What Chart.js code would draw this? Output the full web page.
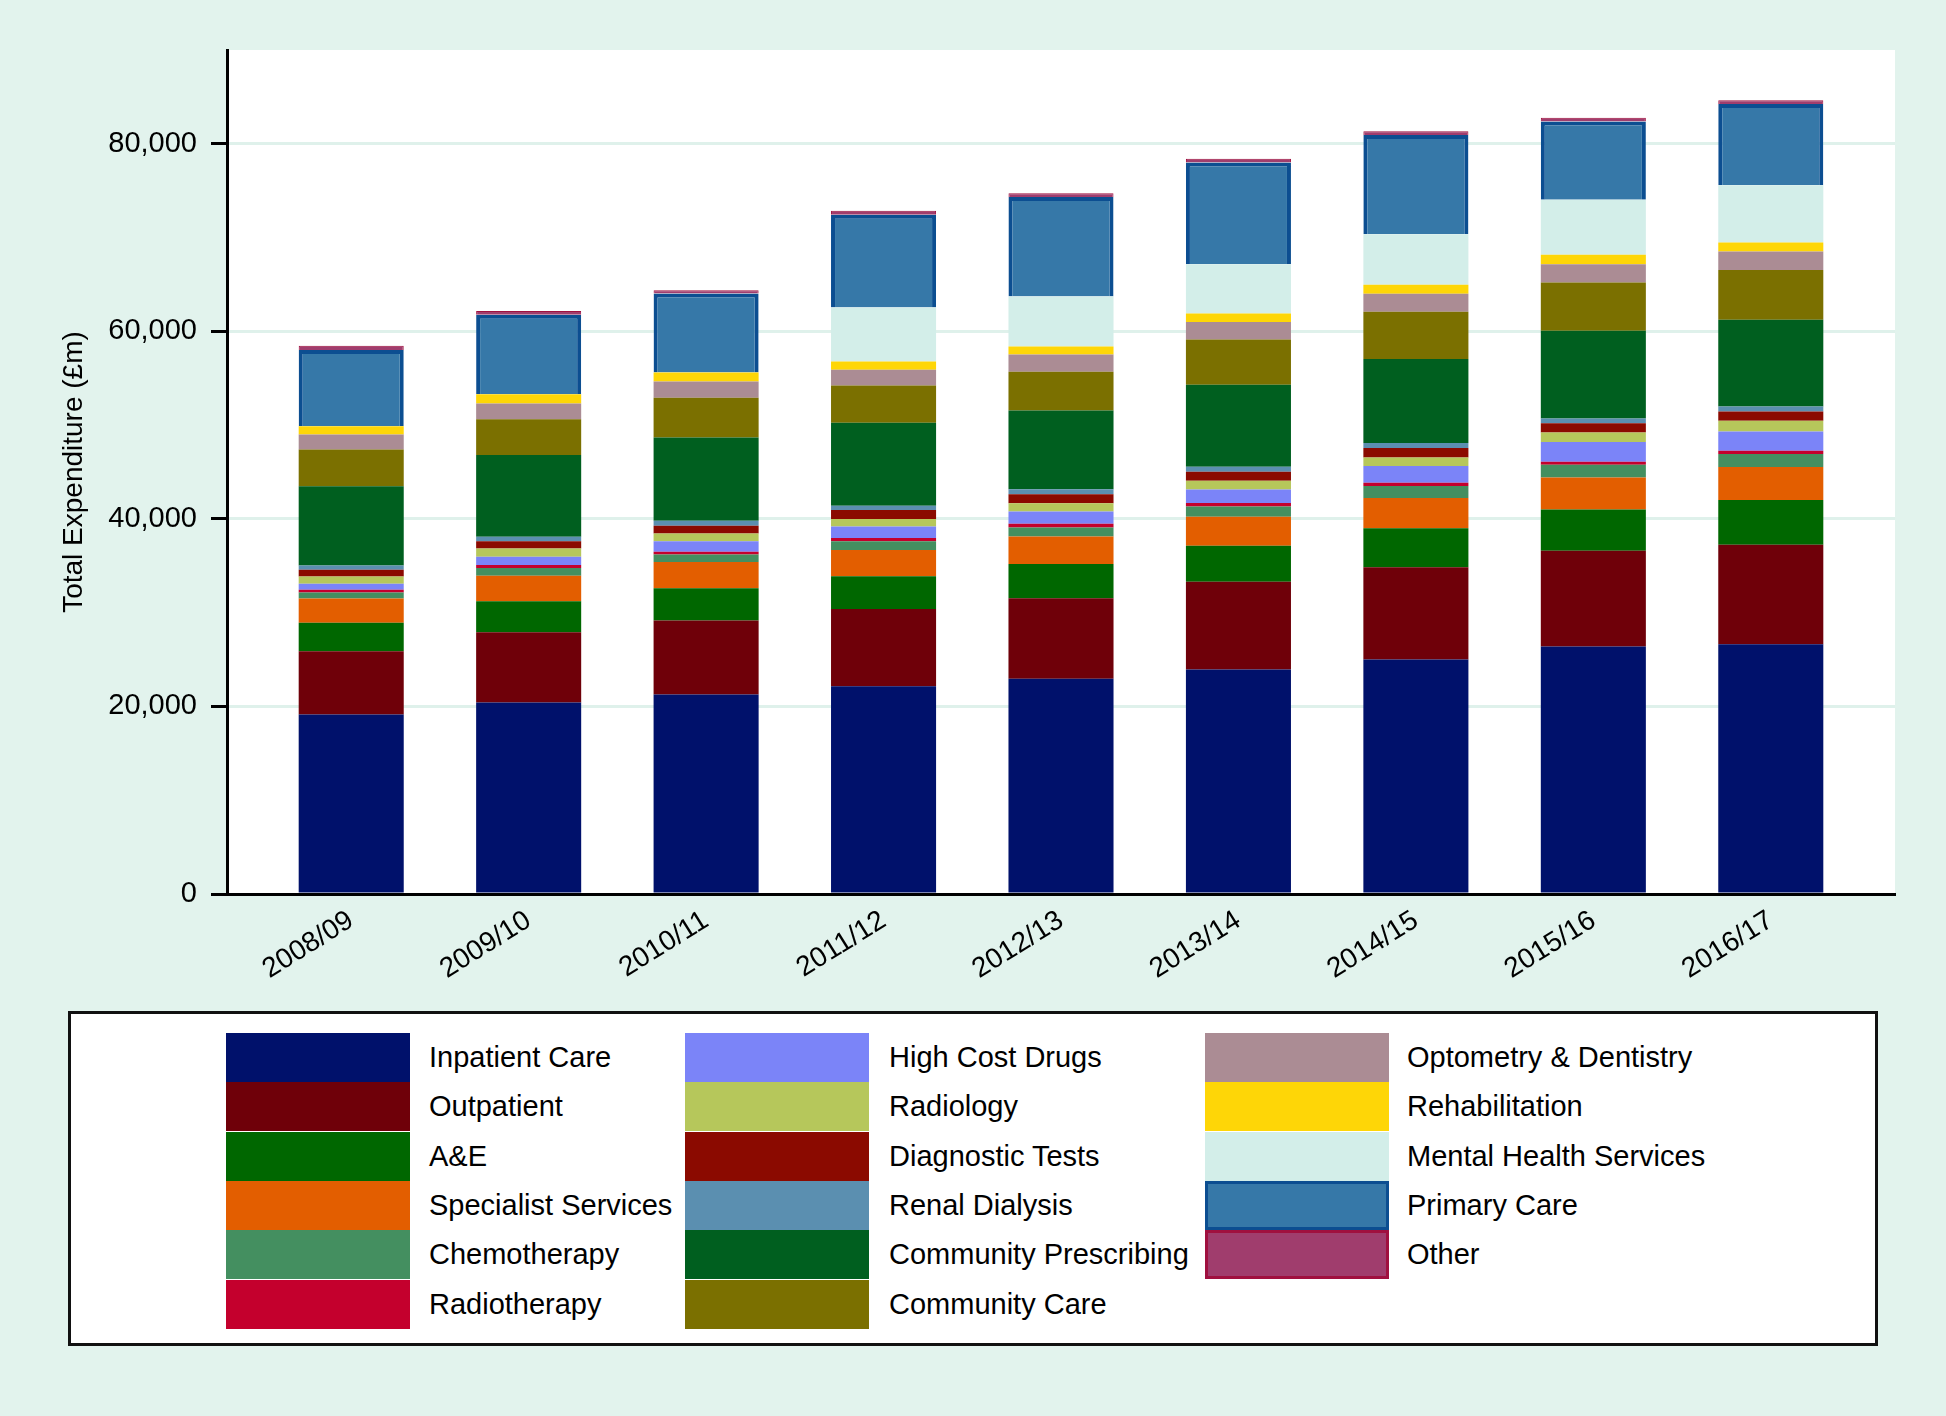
<!DOCTYPE html>
<html>
<head>
<meta charset="utf-8">
<script src="https://cdn.jsdelivr.net/npm/chart.js@4"></script>
<style>
  html, body { margin: 0; padding: 0; }
  body { width: 1946px; height: 1416px; background: #e2f3ed; position: relative; overflow: hidden;
         font-family: 'Liberation Sans', Arial, sans-serif; }
  #wrap { position: absolute; left: 0; top: 0; width: 1946px; height: 1000px; }
  #legend { position: absolute; left: 68px; top: 1011px; width: 1810px; height: 335px;
            box-sizing: border-box; border: 3px solid #111; background: #fff; }
  .sw { position: absolute; width: 184px; height: 49px; box-sizing: border-box; }
  .lbl { position: absolute; font-size: 29px; line-height: 49px; color: #000; white-space: nowrap; }
</style>
</head>
<body>
<div id="wrap"><canvas id="chart"></canvas></div>
<div id="legend"></div>
<script>
// years on the x axis
const years = ['2008/09', '2009/10', '2010/11', '2011/12', '2012/13', '2013/14', '2014/15', '2015/16', '2016/17']
const yTicks = [0, 20000, 40000, 60000, 80000]

// spend per programme, £m
const inpatientCare = [19150, 20415, 21270, 22150, 22940, 23930, 25000, 26380, 26630]
const outpatient = [6745, 7490, 7885, 8250, 8590, 9375, 9835, 10230, 10620]
const aAndE = [3025, 3300, 3440, 3475, 3665, 3835, 4155, 4400, 4760]
const specialistServices = [2590, 2740, 2810, 2810, 2940, 3090, 3235, 3410, 3520]
const chemotherapy = [640, 820, 810, 920, 960, 1100, 1280, 1350, 1385]
const radiotherapy = [290, 320, 290, 360, 395, 360, 355, 320, 350]
const highCostDrugs = [640, 880, 1100, 1235, 1310, 1450, 1780, 2100, 2055]
const radiology = [780, 890, 850, 790, 855, 925, 915, 1020, 1140]
const diagnosticTests = [710, 750, 820, 960, 960, 960, 1000, 1000, 990]
const renalDialysis = [460, 500, 530, 460, 535, 535, 535, 500, 535]
const communityPrescribing = [8450, 8705, 8875, 8845, 8415, 8735, 8950, 9340, 9240]
const communityCare = [3910, 3815, 4230, 3975, 4125, 4825, 5040, 5150, 5325]
const optometryDentistry = [1600, 1670, 1740, 1670, 1845, 1885, 1920, 1960, 1950]
const rehabilitation = [885, 995, 960, 885, 850, 885, 960, 1005, 960]
const mentalHealth = [0, 0, 0, 5755, 5330, 5265, 5400, 5860, 6115]
const primaryCare = [8135, 8490, 8425, 9900, 10610, 10860, 10570, 8355, 8655]
const other = [460, 400, 355, 410, 400, 400, 400, 400, 400]

const series = [
  { label: 'Inpatient Care', data: inpatientCare, color: '#00116b' },
  { label: 'Outpatient', data: outpatient, color: '#6f0009' },
  { label: 'A&E', data: aAndE, color: '#006700' },
  { label: 'Specialist Services', data: specialistServices, color: '#e35e00' },
  { label: 'Chemotherapy', data: chemotherapy, color: '#448f60' },
  { label: 'Radiotherapy', data: radiotherapy, color: '#c4002d' },
  { label: 'High Cost Drugs', data: highCostDrugs, color: '#7b84f8' },
  { label: 'Radiology', data: radiology, color: '#b6c75b' },
  { label: 'Diagnostic Tests', data: diagnosticTests, color: '#8b0a00' },
  { label: 'Renal Dialysis', data: renalDialysis, color: '#5b8fb0' },
  { label: 'Community Prescribing', data: communityPrescribing, color: '#005f1f' },
  { label: 'Community Care', data: communityCare, color: '#7b7000' },
  { label: 'Optometry & Dentistry', data: optometryDentistry, color: '#ab8c94' },
  { label: 'Rehabilitation', data: rehabilitation, color: '#fed607' },
  { label: 'Mental Health Services', data: mentalHealth, color: '#d3eee9' },
  { label: 'Primary Care', data: primaryCare, color: '#3678a8', border: '#0c4e91', bw: 4 },
  { label: 'Other', data: other, color: '#a03d6d', border: '#a0103f', bw: 1 },
]

const FONT = "'Liberation Sans', Arial, sans-serif"

// white plot background
const plotBg = {
  id: 'plotBg',
  beforeDraw(chart) {
    const { ctx, chartArea: a } = chart
    ctx.save()
    ctx.fillStyle = '#ffffff'
    ctx.fillRect(a.left, a.top, a.right - a.left, a.bottom - a.top)
    ctx.restore()
  },
}

new Chart(document.getElementById('chart'), {
  type: 'bar',
  data: {
    datasets: series.map((s) => ({
      label: s.label,
      data: s.data.map((v, i) => ({ x: i + 1, y: v })),
      backgroundColor: s.color,
      borderColor: s.border || s.color,
      borderWidth: s.bw || 0,
      barPercentage: 0.592,
      categoryPercentage: 1,
    })),
  },
  options: {
    responsive: true,
    maintainAspectRatio: false,
    animation: false,
    layout: { padding: { left: 0, top: 50, right: 51, bottom: 0 } },
    plugins: { legend: { display: false }, tooltip: { enabled: false } },
    scales: {
      x: {
        type: 'linear',
        stacked: true,
        offset: false,
        min: 0.3,
        max: 9.7,
        afterBuildTicks: (axis) => { axis.ticks = years.map((_, i) => ({ value: i + 1 })) },
        afterFit: (scale) => { scale.height = 106 },
        grid: { display: false, offset: false },
        border: { display: true, color: '#000', width: 3 },
        ticks: {
          autoSkip: false,
          minRotation: 32,
          maxRotation: 32,
          padding: 2,
          color: '#000',
          font: { family: FONT, size: 28 },
          callback: (v) => years[v - 1] || '',
        },
      },
      y: {
        stacked: true,
        min: 0,
        max: 90000,
        afterBuildTicks: (axis) => { axis.ticks = yTicks.map((v) => ({ value: v })) },
        afterFit: (scale) => { scale.width = 227 },
        grid: { color: '#dff1eb', lineWidth: 3, tickColor: '#000', tickWidth: 3, tickLength: 16 },
        border: { display: true, color: '#000', width: 3 },
        ticks: {
          padding: 14,
          color: '#000',
          font: { family: FONT, size: 29 },
          callback: (v) => v.toLocaleString('en-US'),
        },
        title: {
          display: true,
          text: 'Total Expenditure (£m)',
          color: '#000',
          font: { family: FONT, size: 28 },
          padding: { top: 57, bottom: 0 },
        },
      },
    },
  },
  plugins: [plotBg],
})

// legend: three columns of big swatches
const legend = document.getElementById('legend')
series.forEach((s, i) => {
  const col = Math.floor(i / 6)
  const row = i % 6
  const swX = [155, 614, 1134][col]
  const txX = [358, 818, 1336][col]
  const y = 19 + row * 49.3
  const sw = document.createElement('div')
  sw.className = 'sw'
  sw.style.left = swX + 'px'
  sw.style.top = y + 'px'
  sw.style.background = s.color
  if (s.border) sw.style.border = '3px solid ' + s.border
  legend.appendChild(sw)
  const t = document.createElement('div')
  t.className = 'lbl'
  t.style.left = txX + 'px'
  t.style.top = y + 'px'
  t.textContent = s.label
  legend.appendChild(t)
})
</script>
</body>
</html>
